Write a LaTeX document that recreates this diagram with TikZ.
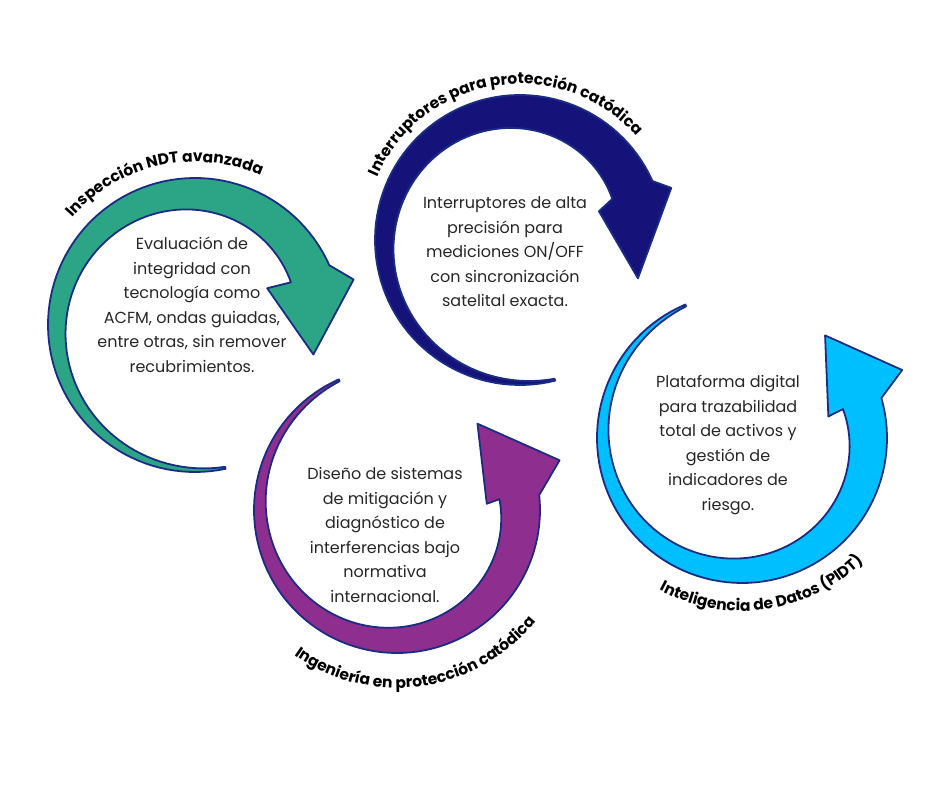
\documentclass[tikz,border=0pt]{standalone}
\usepackage{fontspec}
\setmainfont{Poppins}
\usetikzlibrary{decorations.text}
\definecolor{cgreen}{HTML}{2BA585}
\definecolor{cnavy}{HTML}{15137A}
\definecolor{cpurple}{HTML}{8E2F8F}
\definecolor{ccyan}{HTML}{00BFFF}
\definecolor{cedge}{HTML}{1A2C84}
\definecolor{ctext}{HTML}{262626}
\newcommand\crescentpath[6]{%
  plot[domain=#4:#5,samples=90,variable=\t] ({#1+#3*cos(\t)},{#2+#3*sin(\t)})}
\newcommand\crescentinner[6]{%
  -- plot[domain=#5:#4,samples=90,variable=\t] ({#1+(#3-2-(#6-2)*(\t-#4)/(#5-#4))*cos(\t)},{#2+(#3-2-(#6-2)*(\t-#4)/(#5-#4))*sin(\t)})}
\tikzset{
  shaft/.style={draw=cedge,line width=1.8pt,line join=round},
  body/.style={align=center,font=\fontsize{16}{24.5}\selectfont,text=ctext},
  lbl/.style={decorate,decoration={text along path,text align=center,
     text={|\fontsize{15.5}{15.5}\bfseries\selectfont|#1}}}
}
\begin{document}
\begin{tikzpicture}[x=1pt,y=1pt]
\useasboundingbox (0,0) rectangle (940,788);
% green
\fill[cgreen,shaft] \crescentpath{195}{463}{147}{-78}{-336}{42}
  -- ([shift={(195,463)}]-344:165) -- ([shift={(195,463)}]-374:122)
  -- ([shift={(195,463)}]-333:81) \crescentinner{195}{463}{147}{-78}{-336}{42} -- cycle;
% navy
\fill[cnavy,shaft] \crescentpath{520}{548}{145}{-76}{-336}{44}
  -- ([shift={(520,548)}]-341:160) -- ([shift={(520,548)}]-378:124)
  -- ([shift={(520,548)}]-340:84) \crescentinner{520}{548}{145}{-76}{-336}{44} -- cycle;
% purple
\fill[cpurple,shaft] \crescentpath{397}{278}{143}{-246}{6}{40}
  -- ([shift={(397,278)}]17:170) -- ([shift={(397,278)}]47:118)
  -- ([shift={(397,278)}]4:90) \crescentinner{397}{278}{143}{-246}{6}{40} -- cycle;
% cyan
\fill[ccyan,shaft] \crescentpath{742}{350}{145}{-247}{16}{40}
  -- ([shift={(742,350)}]23:174) -- ([shift={(742,350)}]51:132)
  -- ([shift={(742,350)}]14:89) \crescentinner{742}{350}{145}{-247}{16}{40} -- cycle;
% labels
\path[lbl={Inspección NDT avanzada}] ([shift={(195,463)}]150:163) arc[start angle=150,end angle=55,radius=163];
\path[lbl={Interruptores para protección catódica}] ([shift={(520,548)}]170:156) arc[start angle=170,end angle=28,radius=156];
\path[lbl={Ingeniería en protección catódica}] ([shift={(397,278)}]-136:178) arc[start angle=-136,end angle=-28,radius=178];
\path[lbl={Inteligencia de Datos (PIDT)}] ([shift={(742,350)}]-132:173) arc[start angle=-132,end angle=-32,radius=173];
% texts
\node[body] (t1) at (192,483) {Evaluación de\\integridad con\\tecnología como\\ACFM, ondas guiadas,\\entre otras, sin remover\\recubrimientos.};
\node[body] (t2) at (505,536) {Interruptores de alta\\precisión para\\mediciones ON/OFF\\con sincronización\\satelital exacta.};
\node[body] (t3) at (385,253) {Diseño de sistemas\\de mitigación y\\diagnóstico de\\interferencias bajo\\normativa\\internacional.};
\node[body] (t4) at (728,343) {Plataforma digital\\para trazabilidad\\total de activos y\\gestión de\\indicadores de\\riesgo.};
\end{tikzpicture}
\end{document}
